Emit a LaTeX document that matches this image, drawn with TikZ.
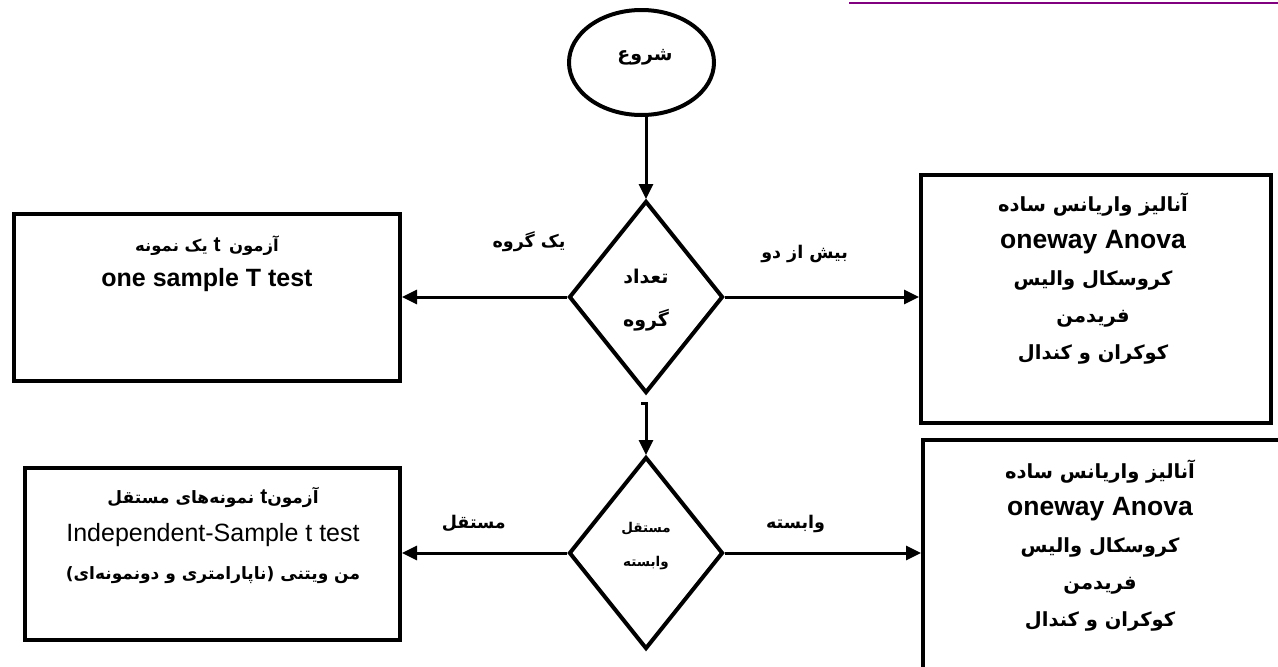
\documentclass[tikz,border=0pt]{standalone}
\usepackage{fontspec}
\setmainfont{Liberation Sans}
\newfontfamily\fa[Script=Arabic]{DejaVu Sans}
\TeXXeTstate=1
\usetikzlibrary{shapes.geometric,arrows.meta}
\definecolor{topline}{RGB}{128,0,128}
\newcommand{\FA}[1]{{\fa\bfseries\beginR #1\endR}}
\newcommand{\LT}[1]{{\bfseries\fontsize{25}{30}\selectfont #1}}
\newcommand{\LTb}[1]{{\bfseries\fontsize{26.5}{30}\selectfont #1}}
\newcommand{\Lr}[1]{{\fontsize{25}{30}\selectfont #1}}
\newcommand{\Lt}{{\rmfamily\bfseries\fontsize{21}{24}\selectfont t}}
\begin{document}
\begin{tikzpicture}[x=1pt,y=-1pt,
  boxnode/.style={draw,rectangle,line width=4pt,inner sep=0pt},
  decision/.style={draw,diamond,line width=4pt,inner sep=0pt,minimum width=154pt,minimum height=192pt},
  startnode/.style={draw,ellipse,line width=4pt,inner sep=0pt,minimum width=145pt,minimum height=105pt},
  conn/.style={line width=3pt,-{Triangle[length=15pt,width=14pt]}},
  txt/.style={inner sep=0pt,align=center,font=\fontsize{19.5}{37}\selectfont},
  lefttxt/.style={txt,font=\fontsize{17}{36}\selectfont},
  lbl/.style={inner sep=0pt,font=\fontsize{17.5}{20}\selectfont}
]
\useasboundingbox (0,0) rectangle (1278,667);
\clip (0,0) rectangle (1278,667);
\fill[white] (0,0) rectangle (1278,667);

% top decorative line
\draw[topline,line width=2.4pt] (849,3) -- (1278,3);

% shapes
\node[startnode] (start) at (641.5,62.5) {};
\node[lbl,font=\fontsize{19}{22}\selectfont] (starttxt) at (645,57) {\FA{شروع}};

\node[decision] (d1) at (646,297) {};
\node[txt,font=\fontsize{19}{37}\selectfont] (d1txt) at (646,300) {\FA{تعداد}\\[6pt]\FA{گروه}};

\node[decision] (d2) at (646,553) {};
\node[txt,font=\fontsize{13.5}{34}\selectfont] (d2txt) at (646,546) {\FA{مستقل}\\\FA{وابسته}};

\node[boxnode,minimum width=386pt,minimum height=167pt] (lb1) at (207,297.5) {};
\node[lefttxt,font=\fontsize{16.5}{35}\selectfont] (lb1txt) at (207,264) {\FA{آزمون\ \,\Lt\ یک نمونه}\\\LT{one sample T test}};

\node[boxnode,minimum width=350pt,minimum height=248pt] (rb1) at (1096,299) {};
\node[txt] (rb1txt) at (1093,279) {\FA{آنالیز واریانس ساده}\\\LTb{oneway Anova}\\\FA{کروسکال والیس}\\\FA{فریدمن}\\\FA{کوکران و کندال}};

\node[boxnode,minimum width=375pt,minimum height=172pt] (lb2) at (212.5,554) {};
\node[lefttxt,font=\fontsize{17}{38}\selectfont] (lb2txt) at (213,535) {\FA{آزمون\Lt\ نمونه‌های مستقل}\\\Lr{Independent-Sample t test}\\\FA{من ویتنی (ناپارامتری و دونمونه‌ای)}};

\node[boxnode,minimum width=370pt,minimum height=260pt] (rb2) at (1108,570) {};
\node[txt] (rb2txt) at (1100,546) {\FA{آنالیز واریانس ساده}\\\LTb{oneway Anova}\\\FA{کروسکال والیس}\\\FA{فریدمن}\\\FA{کوکران و کندال}};

% connectors
\draw[conn] (d1.north |- start.south) -- (d1.north);
\draw[conn] (d1.west) -- node[lbl,pos=0.23,yshift=55pt] (l1) {\FA{یک گروه}} (d1.west -| lb1.east);
\draw[conn] (d1.east) -- node[lbl,pos=0.41,yshift=43pt] (l2) {\FA{بیش از دو}} (d1.east -| rb1.west);
\draw[conn] ([xshift=-5pt,yshift=-8pt]d1.south) -- ([yshift=-8pt]d1.south) -- (d2.north);
\draw[conn] (d2.west) -- node[lbl,pos=0.565,yshift=30pt] (l3) {\FA{مستقل}} (d2.west -| lb2.east);
\draw[conn] (d2.east) -- node[lbl,pos=0.36,yshift=29pt] (l4) {\FA{وابسته}} (d2.east -| rb2.west);
\end{tikzpicture}
\end{document}
